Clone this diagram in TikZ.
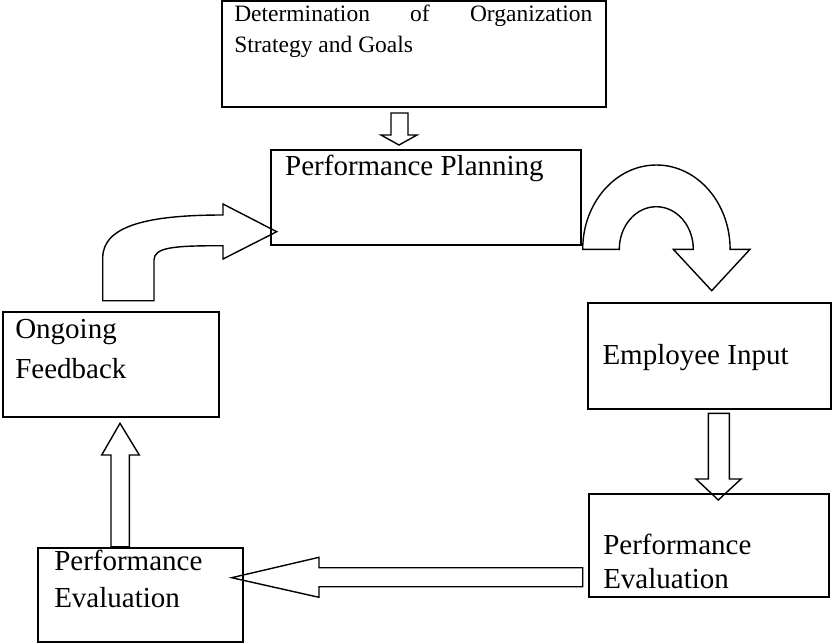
\documentclass[tikz,border=0pt]{standalone}
\usepackage{fontspec}
\setmainfont{Liberation Serif}
\usetikzlibrary{calc}
\tikzset{
  box/.style = {draw, line width=2pt, inner sep=0pt},
  txt/.style = {anchor=base west, inner sep=0pt, align=left,
    font=\fontsize{29}{36}\selectfont},
  blockarrow/.style = {draw, fill=white, line width=1.4pt, line join=miter}
}

\begin{document}
\begin{tikzpicture}[x=1pt,y=-1pt]
  \useasboundingbox (0,0) rectangle (832,643);
  % block arrows
  \draw[blockarrow] (391,113) -- (408,113) -- (408,135) -- (417,135)
    -- (399,145) -- (381,135) -- (391,135) -- cycle;
  \draw[blockarrow] (582.7,249.3)
    arc[start angle=180, end angle=360, x radius=73.7, y radius=84.3]
    -- (750,249.3) -- (711.7,290.7) -- (673.3,249.3) -- (693.3,249.3)
    arc[start angle=360, end angle=180, x radius=37, y radius=42.6] -- cycle;
  \draw[blockarrow] (708.3,413.3) -- (729.3,413.3) -- (729.3,479) -- (741,479)
    -- (718.3,500) -- (696,479) -- (708.3,479) -- cycle;
  \draw[blockarrow] (582.7,567.7) -- (582.7,586.7) -- (319,586.7) -- (319,597.3)
    -- (231.7,577.7) -- (319,557.3) -- (319,567.7) -- cycle;
  \draw[blockarrow] (111,546.7) -- (111,455) -- (101.7,455) -- (120,423.3)
    -- (139.3,455) -- (129.3,455) -- (129.3,546.7) -- cycle;
  \draw[blockarrow] (102.7,300.7) -- (102.7,258)
    .. controls (102.7,225) and (150,215) .. (223,215) -- (223,204)
    -- (276.7,231.7) -- (223,259) -- (223,245.7)
    .. controls (175,245.7) and (154,247) .. (154,260) -- (154,300.7) -- cycle;
  % boxes
  \node[box, minimum width=383.7pt, minimum height=106.3pt] (strategy) at (414.2,54.2) {};
  \node[box, minimum width=310pt, minimum height=95pt] (planning) at (426,197.5) {};
  \node[box, minimum width=242.4pt, minimum height=106pt] (input) at (709.5,356.3) {};
  \node[box, minimum width=240.3pt, minimum height=102.7pt] (evalright) at (709.2,545.4) {};
  \node[box, minimum width=204.7pt, minimum height=94pt] (evalleft) at (140.7,594.7) {};
  \node[box, minimum width=216.3pt, minimum height=105pt] (feedback) at (110.9,364.2) {};
  % texts (base = last line)
  \node[txt, font=\fontsize{23.5}{31}\selectfont] (strategytext)
    at ($(strategy.north west)+(12.7,52)$)
    {\makebox[358pt][s]{Determination of Organization}\\Strategy and Goals};
  \node[txt] (planningtext) at ($(planning.north west)+(15,26.7)$) {Performance Planning};
  \node[txt] (inputtext) at ($(input.north west)+(15,61.7)$) {Employee Input};
  \node[txt, font=\fontsize{29}{34.3}\selectfont] (evalrighttext)
    at ($(evalright.north west)+(15,95.3)$) {Performance\\Evaluation};
  \node[txt, font=\fontsize{29}{36.3}\selectfont] (evallefttext)
    at ($(evalleft.north west)+(16.7,60.3)$) {Performance\\Evaluation};
  \node[txt, font=\fontsize{29}{40}\selectfont] (feedbacktext)
    at ($(feedback.north west)+(13.3,67.3)$) {Ongoing\\Feedback};
\end{tikzpicture}
\end{document}
